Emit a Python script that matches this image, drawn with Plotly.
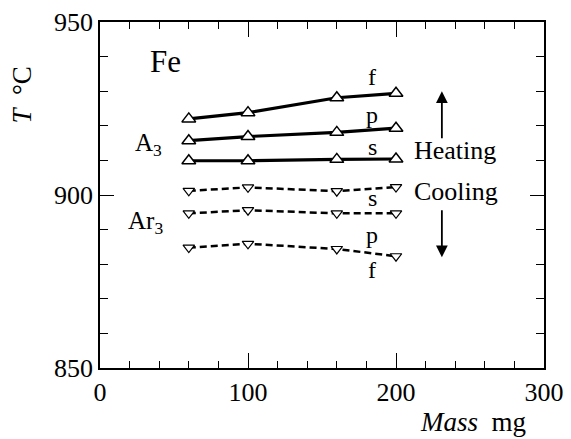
import plotly.graph_objects as go

mass = [60, 100, 160, 200]
heat_f = [922.0, 923.8, 928.1, 929.4]
heat_p = [915.7, 916.9, 918.1, 919.3]
heat_s = [909.9, 909.9, 910.3, 910.4]
cool_s = [901.2, 902.2, 901.1, 902.3]
cool_p = [894.7, 895.6, 894.7, 894.7]
cool_f = [884.8, 885.9, 884.4, 882.3]

x_ticks = [0, 100, 200, 300]
y_ticks = [850, 900, 950]

FONT = "Liberation Serif"

fig = go.Figure()
for ys in (heat_f, heat_p, heat_s):
    fig.add_trace(go.Scatter(
        x=mass, y=ys, mode="lines+markers",
        line=dict(color="black", width=3.2),
        marker=dict(symbol="triangle-up", size=12, color="white",
                    line=dict(color="black", width=1.5)),
        showlegend=False, cliponaxis=False))
for ys in (cool_s, cool_p, cool_f):
    fig.add_trace(go.Scatter(
        x=mass, y=ys, mode="lines+markers",
        line=dict(color="black", width=2.5, dash="7px,4px"),
        marker=dict(symbol="triangle-down", size=10, color="white",
                    line=dict(color="black", width=1.2)),
        showlegend=False, cliponaxis=False))

def txt(x, y, s, size=24, **kw):
    fig.add_annotation(x=x, y=y, text=s, showarrow=False,
                       font=dict(family=FONT, size=size, color="black"), **kw)

txt(44, 938.5, "Fe", size=31)
txt(184, 934, "f")
txt(184, 923, "p")
txt(184, 914, "s")
txt(33, 914.7, "A<sub>3</sub>", size=25)
txt(31, 892, "Ar<sub>3</sub>", size=25)
txt(184, 899, "s")
txt(184, 888.4, "p")
txt(184, 878.3, "f")
txt(211, 912.8, "Heating", size=26, xanchor="left")
txt(211, 901, "Cooling", size=26, xanchor="left")

fig.add_annotation(x=231, y=930, ax=231, ay=916, xref="x", yref="y",
                   axref="x", ayref="y", showarrow=True, arrowhead=2,
                   arrowsize=1.3, arrowwidth=1.8, arrowcolor="black", text="")
fig.add_annotation(x=231, y=882, ax=231, ay=896, xref="x", yref="y",
                   axref="x", ayref="y", showarrow=True, arrowhead=2,
                   arrowsize=1.3, arrowwidth=1.8, arrowcolor="black", text="")

fig.add_annotation(text="<i>T</i>  °C", xref="paper", yref="paper",
                   x=-0.176, y=0.79, xanchor="center", yanchor="middle",
                   textangle=-90, showarrow=False,
                   font=dict(family=FONT, size=27, color="black"))
fig.add_annotation(text="<i>Mass</i>  mg", xref="paper", yref="paper",
                   x=0.965, y=-0.156, xanchor="right", yanchor="middle",
                   showarrow=False,
                   font=dict(family=FONT, size=27, color="black"))

axis_common = dict(showgrid=False, zeroline=False, showline=True,
                   linecolor="black", linewidth=1.5, mirror="ticks",
                   ticks="inside", tickcolor="black", tickwidth=1.3,
                   automargin=False, ticklabeloverflow="allow",
                   tickfont=dict(family=FONT, size=26, color="black"))
fig.update_xaxes(range=[0, 300], tickvals=x_ticks, ticklen=15,
                 minor=dict(dtick=20, ticks="inside", ticklen=7,
                            tickcolor="black", tickwidth=1.3),
                 **axis_common)
fig.update_yaxes(range=[850, 950], tickvals=y_ticks, ticklen=14,
                 minor=dict(dtick=10, ticks="inside", ticklen=8,
                            tickcolor="black", tickwidth=1.3),
                 **axis_common)

fig.update_layout(width=563, height=431, plot_bgcolor="white",
                  paper_bgcolor="white",
                  margin=dict(l=92, r=27, t=14, b=71, autoexpand=False),
                  font=dict(family=FONT, color="black"))
fig.write_html("out.html")
